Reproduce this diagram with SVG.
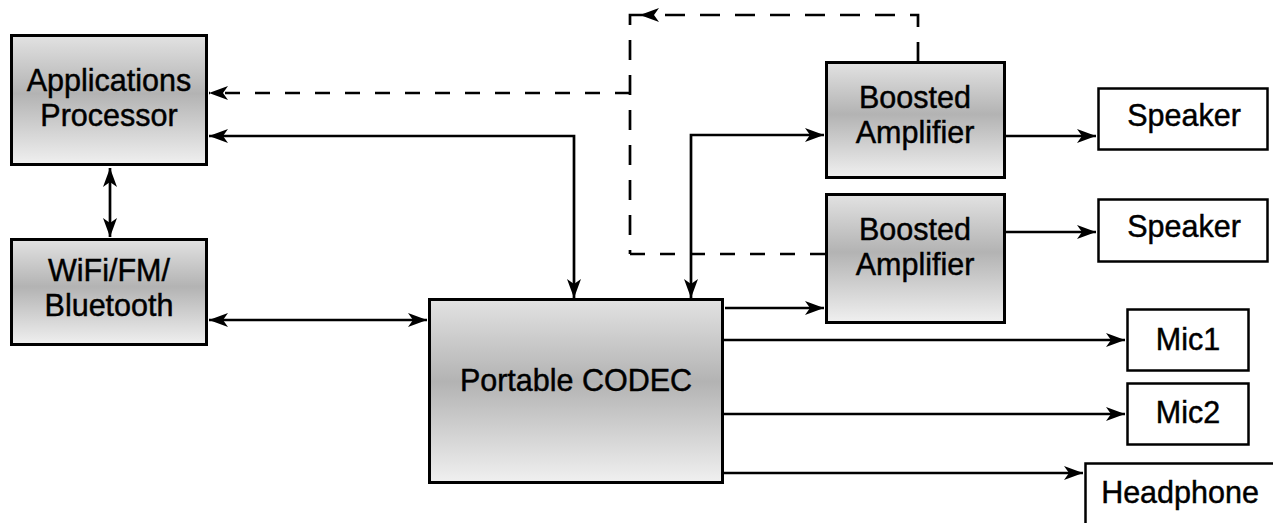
<svg xmlns="http://www.w3.org/2000/svg" width="1273" height="523" viewBox="0 0 1273 523">
  <defs>
    <linearGradient id="chip" x1="0" y1="0" x2="0" y2="1">
      <stop offset="0" stop-color="#e2e2e2"/>
      <stop offset="0.45" stop-color="#b3b3b3"/>
      <stop offset="1" stop-color="#f0f0f0"/>
    </linearGradient>
    <marker id="arrow" viewBox="-20 -8 21 16" refX="0" refY="0" markerWidth="21" markerHeight="16" markerUnits="userSpaceOnUse" orient="auto-start-reverse">
      <path d="M0,0 L-19,-7 L-14,0 L-19,7 Z" fill="#000"/>
    </marker>
    <style>
      .chip { fill: url(#chip); stroke: #000; stroke-width: 3; }
      .port { fill: #fff; stroke: #000; stroke-width: 2.5; }
      .label { font-family: "Liberation Sans", Arial, Helvetica, sans-serif; font-size: 30.5px; fill: #000; stroke: #000; stroke-width: 0.45; text-anchor: middle; }
      .wire { fill: none; stroke: #000; stroke-width: 2.7; }
      .dash { fill: none; stroke: #000; stroke-width: 2.7; stroke-dasharray: 15 15; }
      .dash-long { fill: none; stroke: #000; stroke-width: 2.7; stroke-dasharray: 20 15; }
    </style>
  </defs>

  <rect width="1273" height="523" fill="#fff"/>

  <!-- connectors -->
  <g id="connectors">
    <path class="wire" d="M110,168 V237" marker-start="url(#arrow)" marker-end="url(#arrow)"/>
    <path class="wire" d="M209,136 H574 V298" marker-start="url(#arrow)" marker-end="url(#arrow)"/>
    <path class="wire" d="M209,320 H427" marker-start="url(#arrow)" marker-end="url(#arrow)"/>
    <path class="wire" d="M691,298 V135 H824" marker-start="url(#arrow)" marker-end="url(#arrow)"/>
    <path class="wire" d="M725,308 H824" marker-end="url(#arrow)"/>
    <path class="wire" d="M723,340 H1125" marker-end="url(#arrow)"/>
    <path class="wire" d="M723,414 H1125" marker-end="url(#arrow)"/>
    <path class="wire" d="M723,473 H1083" marker-end="url(#arrow)"/>
    <path class="wire" d="M1005,136 H1096" marker-end="url(#arrow)"/>
    <path class="wire" d="M1005,232 H1096" marker-end="url(#arrow)"/>
    <!-- dashed control loop from the amplifiers back to the processor -->
    <path class="dash-long" d="M918,62 V15 H640" marker-end="url(#arrow)"/>
    <path class="dash-long" d="M640,15 H630 V254"/>
    <path class="dash" d="M630,254 H826"/>
    <path class="dash" d="M630,93 H209" marker-end="url(#arrow)"/>
  </g>

  <g id="app-processor">
    <rect class="chip" x="11.5" y="35.5" width="195" height="129"/>
    <text class="label" x="109" y="91">Applications</text>
    <text class="label" x="109" y="126">Processor</text>
  </g>

  <g id="wireless">
    <rect class="chip" x="11.5" y="239.5" width="195" height="105"/>
    <text class="label" x="109" y="281">WiFi/FM/</text>
    <text class="label" x="109" y="316">Bluetooth</text>
  </g>

  <g id="codec">
    <rect class="chip" x="429.5" y="299.5" width="293" height="183"/>
    <text class="label" x="576" y="391">Portable CODEC</text>
  </g>

  <g id="amp-1">
    <rect class="chip" x="826.5" y="62.5" width="178" height="115"/>
    <text class="label" x="915" y="108">Boosted</text>
    <text class="label" x="915" y="143">Amplifier</text>
  </g>

  <g id="amp-2">
    <rect class="chip" x="826.5" y="194.5" width="178" height="128"/>
    <text class="label" x="915" y="240">Boosted</text>
    <text class="label" x="915" y="275">Amplifier</text>
  </g>

  <g id="speaker-1">
    <rect class="port" x="1098.5" y="88.5" width="169" height="61"/>
    <text class="label" x="1184" y="126">Speaker</text>
  </g>

  <g id="speaker-2">
    <rect class="port" x="1098.5" y="199.5" width="169" height="62"/>
    <text class="label" x="1184" y="237">Speaker</text>
  </g>

  <g id="mic-1">
    <rect class="port" x="1127.5" y="309.5" width="121" height="61"/>
    <text class="label" x="1188" y="350">Mic1</text>
  </g>

  <g id="mic-2">
    <rect class="port" x="1127.5" y="383.5" width="121" height="61"/>
    <text class="label" x="1188" y="423">Mic2</text>
  </g>

  <g id="headphone">
    <rect class="port" x="1085.5" y="463.5" width="200" height="80"/>
    <text class="label" x="1180" y="503">Headphone</text>
  </g>
</svg>
